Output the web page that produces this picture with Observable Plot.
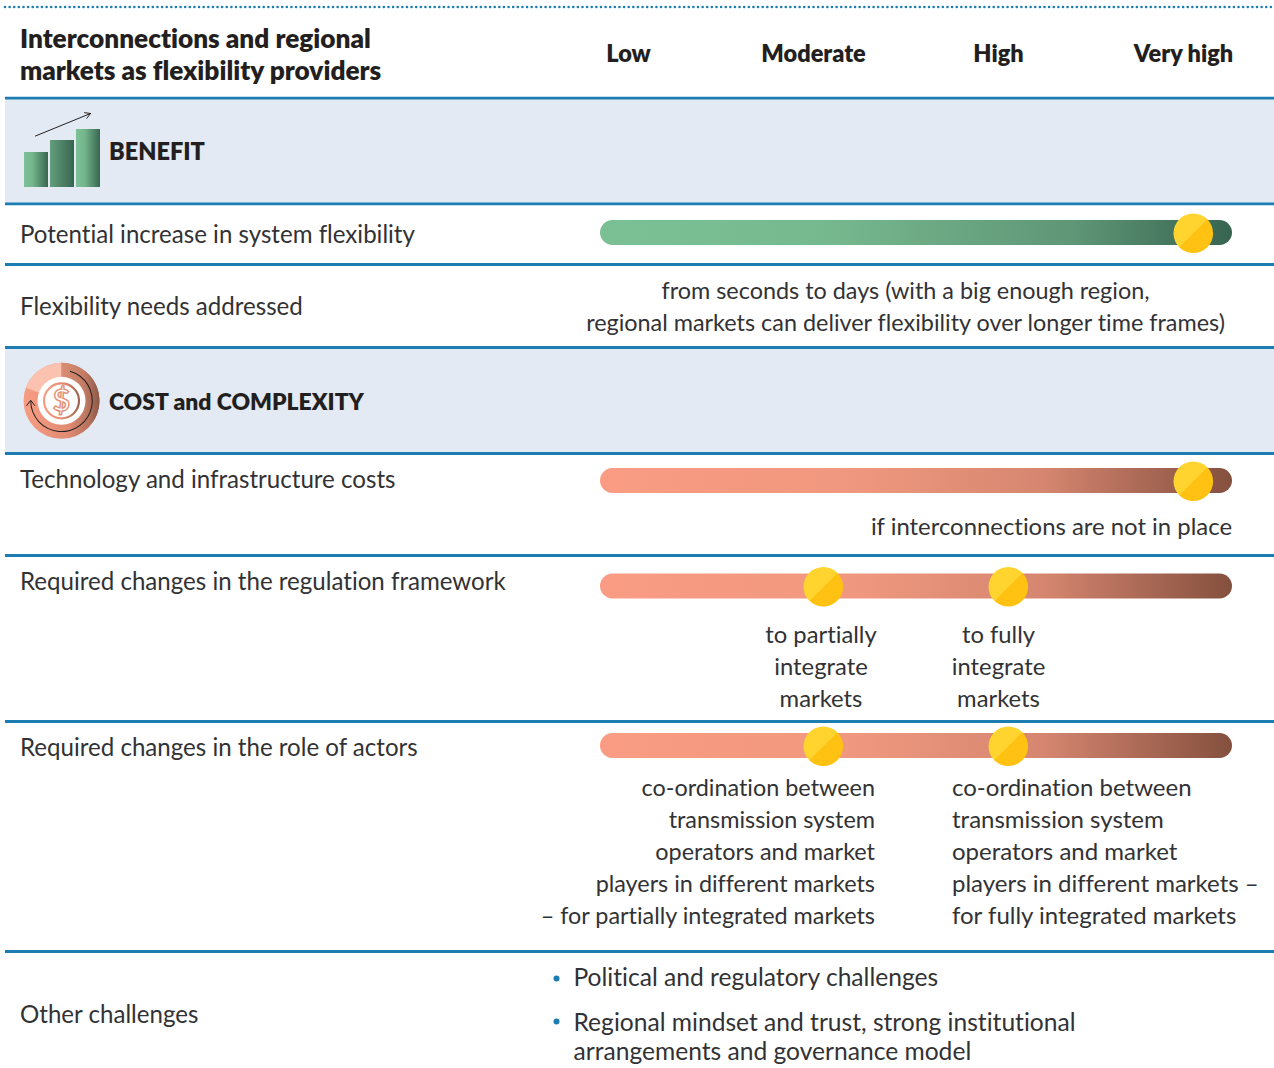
<!DOCTYPE html>
<html><head><meta charset="utf-8">
<script src="https://cdn.jsdelivr.net/npm/d3@7"></script>
<script src="https://cdn.jsdelivr.net/npm/@observablehq/plot@0.6"></script>
<style>html,body{margin:0;padding:0;background:#fff}svg{display:block}svg text{font-variant-ligatures:none}</style>
</head><body><div id="chart"></div>
<script>
// ---------- data ----------
const title = "Interconnections and regional\nmarkets as flexibility providers";
const levelLabels = ["Low", "Moderate", "High", "Very high"];
const sectionLabels = ["BENEFIT", "COST and COMPLEXITY"];
const rowLabels = ["Potential increase in system flexibility", "Flexibility needs addressed", "Technology and infrastructure costs", "Required changes in the regulation framework", "Required changes in the role of actors", "Other challenges"];
const flexibilityLevels = [3.05];
const technologyLevels = [3.05];
const regulationLevels = [1.05, 2.05];
const actorLevels = [1.05, 2.05];
const needsNote = "from seconds to days (with a big enough region,\nregional markets can deliver flexibility over longer time frames)";
const technologyNote = "if interconnections are not in place";
const regulationNotes = ["to partially\nintegrate\nmarkets", "to fully\nintegrate\nmarkets"];
const actorNotes = ["co-ordination between\ntransmission system\noperators and market\nplayers in different markets\n– for partially integrated markets", "co-ordination between\ntransmission system\noperators and market\nplayers in different markets –\nfor fully integrated markets"];
const challenges = ["Political and regulatory challenges", "Regional mindset and trust, strong institutional\narrangements and governance model"];

// ---------- layout ----------
const W = 1274, H = 1068;
const px = p => (p - 628) / 185;          // page pixel -> level position
const FONT = "Lato, sans-serif";
const INK = "#323234", DARK = "#231f20", BLUE = "#1b7db1";
const FS = 23.4;
const ruleYs = [97.7, 203.3, 264, 347, 453, 555, 721, 951];
const bands = [[98, 203], [347, 453]];
const barRows = [
  {cy: 232.5, fill: "url(#green)", dots: flexibilityLevels},
  {cy: 480.5, fill: "url(#salmon)", dots: technologyLevels},
  {cy: 586, fill: "url(#salmon)", dots: regulationLevels},
  {cy: 745.5, fill: "url(#salmon)", dots: actorLevels}
];
const bars = barRows.map(r => ({x1: px(600), x2: px(1232), y1: r.cy - 12.5, y2: r.cy + 12.5, fill: r.fill}));
const dots = barRows.flatMap(r => r.dots.map(l => ({x: l + 0.003, y: r.cy + 0.3})));
const labelYs = [235, 307, 480, 582, 748, 1015];

const txt = (items, o = {}) => {
  const size = o.fontSize ?? FS;
  return Plot.text(items, {x: "x", y: "y", text: "t", fontFamily: FONT, fill: INK, lineAnchor: "middle", stroke: "none", dy: -2.6, lineHeight: 32 / size, ...o, fontSize: size});
};

const cx = 61.5, cy = 400.8;
const iconBars = [{a: 24, b: 48, t: 152, f: "url(#ib1)"}, {a: 50, b: 74, t: 140, f: "url(#ib2)"}, {a: 76, b: 100, t: 129, f: "url(#ib1)"}];

function costIcon(index, {x, y}) {
  const g = d3.create("svg:g").attr("transform", `translate(${x(px(cx))},${y(cy)})`);
  const rad = d => d * Math.PI / 180;
  const arc = d3.arc();
  g.append("circle").attr("r", 38).attr("fill", "url(#disk)");
  g.append("path").attr("d", arc({innerRadius: 23, outerRadius: 38, startAngle: rad(-70), endAngle: 0})).attr("fill", "#fbc2b0");
  g.append("path").attr("d", arc({innerRadius: 23, outerRadius: 38, startAngle: 0, endAngle: rad(125)})).attr("fill", "url(#wedge)");
  g.append("circle").attr("r", 24).attr("fill", "#fff");
  g.append("circle").attr("r", 17.5).attr("fill", "none").attr("stroke", "url(#disk)").attr("stroke-width", 2.2);
  g.append("path").attr("d", arc({innerRadius: 30.3, outerRadius: 31.3, startAngle: rad(16), endAngle: rad(270)})).attr("fill", "#231f20");
  g.append("path").attr("d", "M-35,5 L-30.8,-0.5 L-26.5,5").attr("fill", "none").attr("stroke", "#231f20").attr("stroke-width", 1);
  g.append("text").attr("text-anchor", "middle").attr("y", 10.5).attr("font-family", FONT).attr("font-size", 30).attr("font-weight", 700).attr("fill", "#fff").attr("stroke", "#e58e76").attr("stroke-width", 1.4).text("$");
  return g.node();
}

const plot = Plot.plot({
  width: W, height: H, margin: 0,
  style: {background: "#fff", overflow: "visible"},
  x: {domain: [px(0), px(W)], range: [0, W], axis: null},
  y: {domain: [0, H], range: [0, H], axis: null},
  marks: [
    Plot.rect(bands, {x1: () => px(5), x2: () => px(W), y1: d => d[0], y2: d => d[1], fill: "#e3eaf3"}),
    Plot.ruleY([6.5], {x1: px(5), x2: px(W), stroke: BLUE, strokeWidth: 2.6, strokeLinecap: "round", strokeDasharray: "0,4.62"}),
    Plot.ruleY(ruleYs, {x1: px(5), x2: px(W), stroke: BLUE, strokeWidth: 2.8}),

    // header
    txt([{x: px(19.5), y: 54, t: title}], {textAnchor: "start", fontWeight: 800, fontSize: 26.2, fill: DARK, letterSpacing: 0.35, dy: -1.2}),
    txt(levelLabels.map((t, i) => ({x: i, y: 54, t})), {fontWeight: 800, fontSize: 23.5, fill: DARK, letterSpacing: 0.15, dy: -3}),

    // sections
    Plot.rect(iconBars, {x1: d => px(d.a), x2: d => px(d.b), y1: d => d.t, y2: () => 187, fill: d => d.f}),
    Plot.arrow([{x1: px(35), y1: 135.5, x2: px(90), y2: 113}], {x1: "x1", y1: "y1", x2: "x2", y2: "y2", stroke: "#231f20", strokeWidth: 1, headLength: 9, bend: false}),
    costIcon,
    txt([{x: px(108.5), y: 152, t: sectionLabels[0]}], {textAnchor: "start", fontWeight: 800, fontSize: 23.5, fill: DARK}),
    txt([{x: px(108.5), y: 402, t: sectionLabels[1]}], {textAnchor: "start", fontWeight: 800, fontSize: 22.9, fill: DARK}),

    // row labels
    txt(rowLabels.map((t, i) => ({x: px(19.5), y: labelYs[i], t})), {textAnchor: "start", fontSize: 24.1}),

    // gauges
    Plot.rect(bars, {x1: "x1", x2: "x2", y1: "y1", y2: "y2", fill: "fill", rx: 12.5}),
    Plot.dot(dots, {x: "x", y: "y", r: 19.8, fill: "url(#gold)", stroke: "none"}),

    // notes
    txt([{x: px(905), y: 307, t: needsNote}]),
    txt([{x: px(1231.5), y: 527, t: technologyNote}], {textAnchor: "end", fontSize: 23.9}),
    txt(regulationNotes.map((t, i) => ({x: px([820.5, 998][i]), y: 667, t})), {fontSize: 23.8}),
    txt([{x: px(874.5), y: 852, t: actorNotes[0]}], {textAnchor: "end"}),
    txt([{x: px(951.5), y: 852, t: actorNotes[1]}], {textAnchor: "start", fontSize: 24}),

    // other challenges
    Plot.dot([978, 1021], {x: () => px(556), y: d => d, r: 3, fill: BLUE, stroke: "none"}),
    txt([{x: px(573), y: 978.5, t: challenges[0]}, {x: px(573), y: 1038, t: challenges[1]}], {textAnchor: "start", fontSize: 24.6, lineHeight: 30 / 24.6})
  ]
});

// gradient paint servers referenced by the marks above
const defs = d3.select(plot).insert("defs", ":first-child");
function grad(id, stops, v = [0, 0, 1, 0]) {
  const g = defs.append("linearGradient").attr("id", id).attr("x1", v[0]).attr("y1", v[1]).attr("x2", v[2]).attr("y2", v[3]);
  stops.forEach(([o, c]) => g.append("stop").attr("offset", o).attr("stop-color", c));
}
grad("green", [[0, "#7bc095"], [0.35, "#77b98f"], [0.75, "#5f9676"], [1, "#366450"]]);
grad("salmon", [[0, "#f99c83"], [0.4, "#f0987f"], [0.7, "#d68670"], [1, "#84503e"]]);
grad("gold", [[0, "#ffd42f"], [0.5, "#ffd42f"], [0.5, "#ffc212"], [1, "#ffc212"]], [0, 0, 1, 1]);
grad("ib1", [[0, "#7dc197"], [0.35, "#75b68d"], [1, "#386650"]]);
grad("ib2", [[0, "#639e7c"], [1, "#376550"]]);
grad("disk", [[0, "#f89d84"], [0.6, "#e08a72"], [1, "#9d6450"]]);
grad("wedge", [[0, "#d98d74"], [0.6, "#c47c65"], [1, "#8c5847"]]);

document.getElementById("chart").append(plot);
</script></body></html>
